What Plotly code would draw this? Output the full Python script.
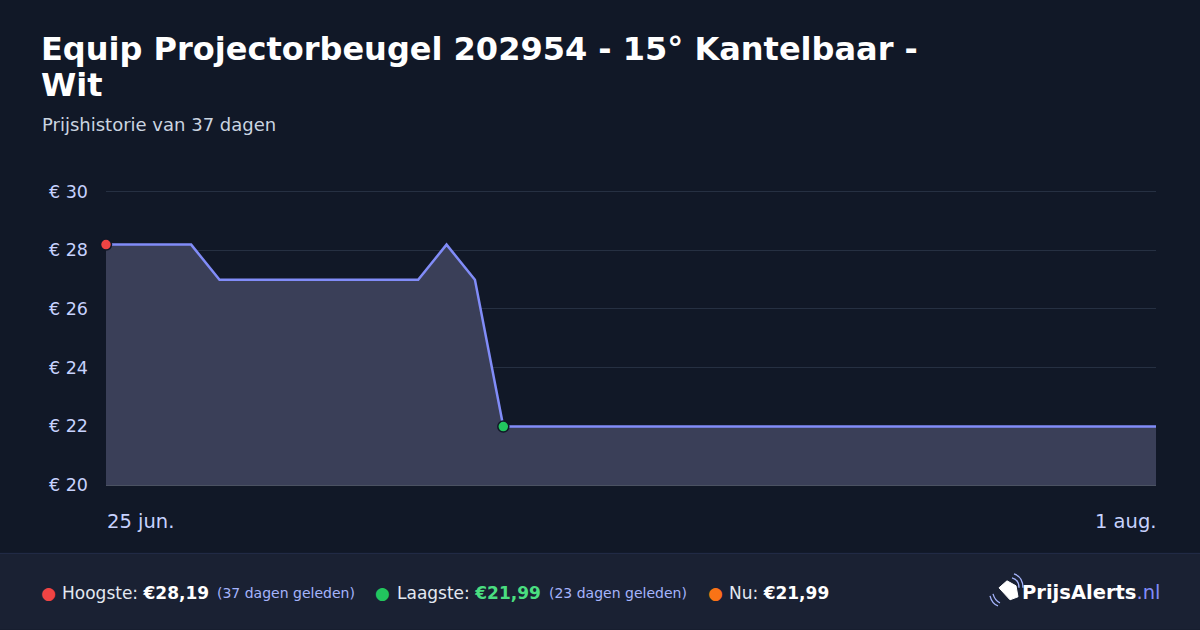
import plotly.graph_objects as go
import pandas as pd

# ---- data ----
dates = pd.date_range("2025-06-25", "2025-08-01", freq="D").strftime("%Y-%m-%d").tolist()
prices = [28.19, 28.19, 28.19, 28.19,
          26.99, 26.99, 26.99, 26.99, 26.99, 26.99, 26.99, 26.99,
          28.19, 26.99,
          21.99, 21.99, 21.99, 21.99, 21.99, 21.99, 21.99, 21.99, 21.99, 21.99,
          21.99, 21.99, 21.99, 21.99, 21.99, 21.99, 21.99, 21.99, 21.99, 21.99,
          21.99, 21.99, 21.99, 21.99]
y_tick_vals = [20, 22, 24, 26, 28, 30]
y_tick_text = ["€ 20", "€ 22", "€ 24", "€ 26", "€ 28", "€ 30"]
x_tick_dates = ["2025-06-25", "2025-08-01"]
x_tick_text = ["25 jun.", "1 aug."]

title_lines = ["Equip Projectorbeugel 202954 - 15° Kantelbaar -", "Wit"]
subtitle_text = "Prijshistorie van 37 dagen"

# ---- layout helpers (pixel -> paper) ----
W, H = 1200, 630
L, R, T, B = 106, 44, 189.5, 145
PW, PH = W - L - R, H - T - B


def px(x):
    return (x - L) / PW


def py(y):
    return (H - B - y) / PH


FONT = "DejaVu Sans"
BG = "#111827"

hi_idx = prices.index(max(prices))
lo_idx = prices.index(min(prices))

fig = go.Figure()
fig.add_trace(go.Scatter(
    x=dates, y=prices, mode="lines",
    line=dict(color="#818cf8", width=2.5),
    fill="tozeroy", fillcolor="#3a3f58",
    hoverinfo="skip", showlegend=False,
))
fig.add_trace(go.Scatter(
    x=[dates[hi_idx]], y=[prices[hi_idx]], mode="markers",
    marker=dict(color="#ef4444", size=11, line=dict(color=BG, width=1.5)),
    showlegend=False, cliponaxis=False, hoverinfo="skip",
))
fig.add_trace(go.Scatter(
    x=[dates[lo_idx]], y=[prices[lo_idx]], mode="markers",
    marker=dict(color="#22c55e", size=11, line=dict(color=BG, width=1.5)),
    showlegend=False, cliponaxis=False, hoverinfo="skip",
))

shapes = [
    dict(type="rect", xref="paper", yref="paper", x0=px(0), x1=px(W), y0=py(553), y1=py(H),
         fillcolor="#1a2133", line=dict(width=0), layer="below"),
    dict(type="line", xref="paper", yref="paper", x0=px(0), x1=px(W), y0=py(553.5), y1=py(553.5),
         line=dict(color="#232c48", width=1)),
]

# logo icon (tag with signal arcs)
def P(x, y):
    return f"{px(x):.5f},{py(y):.5f}"

tag = ("M " + P(999, 588) + " L " + P(1007, 581) + " L " + P(1016, 586) + " L " + P(1018, 597)
       + " L " + P(1010, 600) + " Z")
shapes.append(dict(type="path", xref="paper", yref="paper", path=tag,
                   fillcolor="#ffffff", line=dict(color="#ffffff", width=1)))
arc1 = "M " + P(1012, 578) + " Q " + P(1019, 580) + " " + P(1019, 588)
arc2 = "M " + P(1014, 574) + " Q " + P(1023, 577) + " " + P(1023, 588)
arc3 = "M " + P(993, 594) + " Q " + P(995, 601) + " " + P(1000, 603)
arc4 = "M " + P(990, 596) + " Q " + P(992, 604) + " " + P(998, 606)
for a in (arc1, arc2, arc3, arc4):
    shapes.append(dict(type="path", xref="paper", yref="paper", path=a,
                       line=dict(color="#a5b4fc", width=1.3)))

ann = []
# title & subtitle
for line_text, yc in zip(title_lines, (48, 84)):
    ann.append(dict(text=f"<b>{line_text}</b>", xref="paper", yref="paper", x=px(39), y=py(yc),
                    xanchor="left", yanchor="middle", align="left", showarrow=False,
                    font=dict(family=FONT, size=32, color="#ffffff")))
ann.append(dict(text=subtitle_text, xref="paper", yref="paper", x=px(40), y=py(124),
                xanchor="left", yanchor="middle", showarrow=False,
                font=dict(family=FONT, size=18, color="#cbd5e1")))
# x tick labels
ann.append(dict(text=x_tick_text[0], xref="x", yref="paper", x=x_tick_dates[0], y=py(522),
                xanchor="left", yanchor="middle", showarrow=False, xshift=-1,
                font=dict(family=FONT, size=19.5, color="#c7d2fe")))
ann.append(dict(text=x_tick_text[1], xref="x", yref="paper", x=x_tick_dates[1], y=py(522),
                xanchor="right", yanchor="middle", showarrow=False, xshift=3,
                font=dict(family=FONT, size=19.5, color="#c7d2fe")))

# footer stats
FY = py(593)
def foot(x, text, size=17, color="#e2e8f0", anchor="left"):
    ann.append(dict(text=text, xref="paper", yref="paper", x=px(x), y=FY, xanchor=anchor,
                    yanchor="middle", showarrow=False, font=dict(family=FONT, size=size, color=color)))

foot(48, "●", 17, "#ef4444", "center")
foot(60, "Hoogste: <b style='color:#ffffff'>€%s</b>" % f"{max(prices):.2f}".replace(".", ","))
foot(215, "(37 dagen geleden)", 14, "#a5b4fc")
foot(382, "●", 17, "#22c55e", "center")
foot(395, "Laagste: <b style='color:#4ade80'>€%s</b>" % f"{min(prices):.2f}".replace(".", ","))
foot(547, "(23 dagen geleden)", 14, "#a5b4fc")
foot(715, "●", 17, "#f97316", "center")
foot(727, "Nu: <b style='color:#ffffff'>€%s</b>" % f"{prices[-1]:.2f}".replace(".", ","))
foot(1020, "<b>PrijsAlerts</b><span style='color:#818cf8'>.nl</span>", 19.5, "#ffffff")

fig.update_layout(
    width=W, height=H,
    margin=dict(l=L, r=R, t=T, b=B),
    paper_bgcolor=BG, plot_bgcolor=BG,
    shapes=shapes, annotations=ann,
    hovermode=False,
    xaxis=dict(range=[dates[0], dates[-1]], showgrid=False, zeroline=False,
               showticklabels=False, showline=True, linecolor="#4b5262", linewidth=1,
               fixedrange=True),
    yaxis=dict(range=[20, 30.05], tickvals=y_tick_vals, ticktext=y_tick_text,
               showgrid=True, gridcolor="#263042", gridwidth=1, zeroline=False,
               showline=False, ticks="", ticklabelstandoff=17,
               tickfont=dict(family=FONT, size=17.5, color="#c7d2fe"), fixedrange=True),
    showlegend=False,
)

fig.write_html("out.html", config={"displayModeBar": False, "staticPlot": True},
               post_script="document.body.style.margin='0';document.body.style.background='#111827';")
